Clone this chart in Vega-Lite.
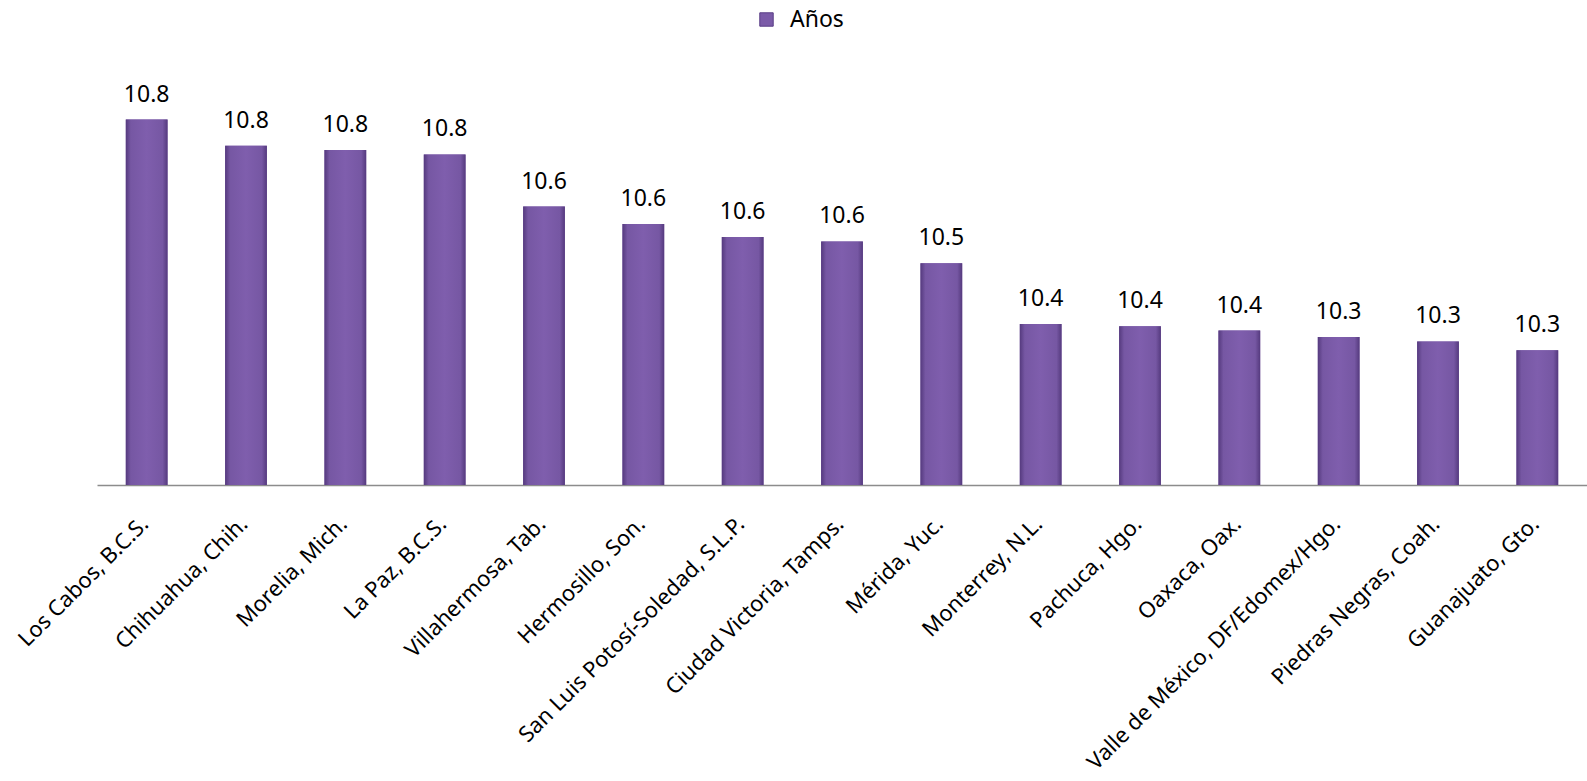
{
  "$schema": "https://vega.github.io/schema/vega-lite/v6.json",
  "width": 1490,
  "height": 435,
  "autosize": {"type": "none"},
  "padding": {"left": 97, "top": 50, "right": 0, "bottom": 296},
  "background": "white",
  "config": {"view": {"stroke": null}, "font": "Noto Sans"},
  "data": {
    "values": [
      {"ciudad": "Los Cabos, B.C.S.", "anos": 10.84},
      {"ciudad": "Chihuahua, Chih.", "anos": 10.78},
      {"ciudad": "Morelia, Mich.", "anos": 10.77},
      {"ciudad": "La Paz, B.C.S.", "anos": 10.76},
      {"ciudad": "Villahermosa, Tab.", "anos": 10.64},
      {"ciudad": "Hermosillo, Son.", "anos": 10.6},
      {"ciudad": "San Luis Potosí-Soledad, S.L.P.", "anos": 10.57},
      {"ciudad": "Ciudad Victoria, Tamps.", "anos": 10.56},
      {"ciudad": "Mérida, Yuc.", "anos": 10.51},
      {"ciudad": "Monterrey, N.L.", "anos": 10.37},
      {"ciudad": "Pachuca, Hgo.", "anos": 10.365},
      {"ciudad": "Oaxaca, Oax.", "anos": 10.355},
      {"ciudad": "Valle de México, DF/Edomex/Hgo.", "anos": 10.34},
      {"ciudad": "Piedras Negras, Coah.", "anos": 10.33},
      {"ciudad": "Guanajuato, Gto.", "anos": 10.31}
    ]
  },
  "encoding": {
    "x": {
      "field": "ciudad",
      "type": "nominal",
      "sort": null,
      "scale": {"paddingInner": 0.58, "paddingOuter": 0.29},
      "axis": {
        "title": null,
        "labelAngle": -45,
        "labelFontSize": 22,
        "labelColor": "#000000",
        "labelFont": "Noto Sans",
        "domainColor": "#8C8C8C",
        "domainWidth": 1.5,
        "ticks": false,
        "labelPadding": 28,
        "labelOffset": -9,
        "labelLimit": 0,
        "labelOverlap": false
      }
    },
    "y": {
      "field": "anos",
      "type": "quantitative",
      "scale": {"domain": [10, 11], "zero": false, "nice": false},
      "axis": null
    },
    "y2": {"datum": 10}
  },
  "layer": [
    {
      "mark": {"type": "bar"},
      "encoding": {
        "color": {
          "datum": "Años",
          "type": "nominal",
          "scale": {"range": ["#7B5BA8"]},
          "legend": {
            "orient": "none",
            "legendX": 658,
            "legendY": -42,
            "title": null,
            "symbolType": "square",
            "symbolSize": 180,
            "symbolStrokeColor": "#5A3D86",
            "symbolStrokeWidth": 1,
            "labelFontSize": 23,
            "labelColor": "#000000",
            "labelFont": "Noto Sans",
            "labelOffset": 12
          }
        }
      }
    },
    {
      "mark": {
        "type": "bar",
        "color": {
          "gradient": "linear",
          "x1": 0, "x2": 1, "y1": 0, "y2": 0,
          "stops": [
            {"offset": 0, "color": "#553A7E"},
            {"offset": 0.12, "color": "#7657A3"},
            {"offset": 0.5, "color": "#7F5EAD"},
            {"offset": 0.88, "color": "#7657A3"},
            {"offset": 1, "color": "#553A7E"}
          ]
        }
      },
      "encoding": {}
    },
    {
      "mark": {"type": "text", "dy": -18, "fontSize": 23, "baseline": "alphabetic", "color": "#000000", "font": "Noto Sans"},
      "encoding": {"text": {"field": "anos", "type": "quantitative", "format": ".1f"}, "y2": null}
    }
  ]
}
